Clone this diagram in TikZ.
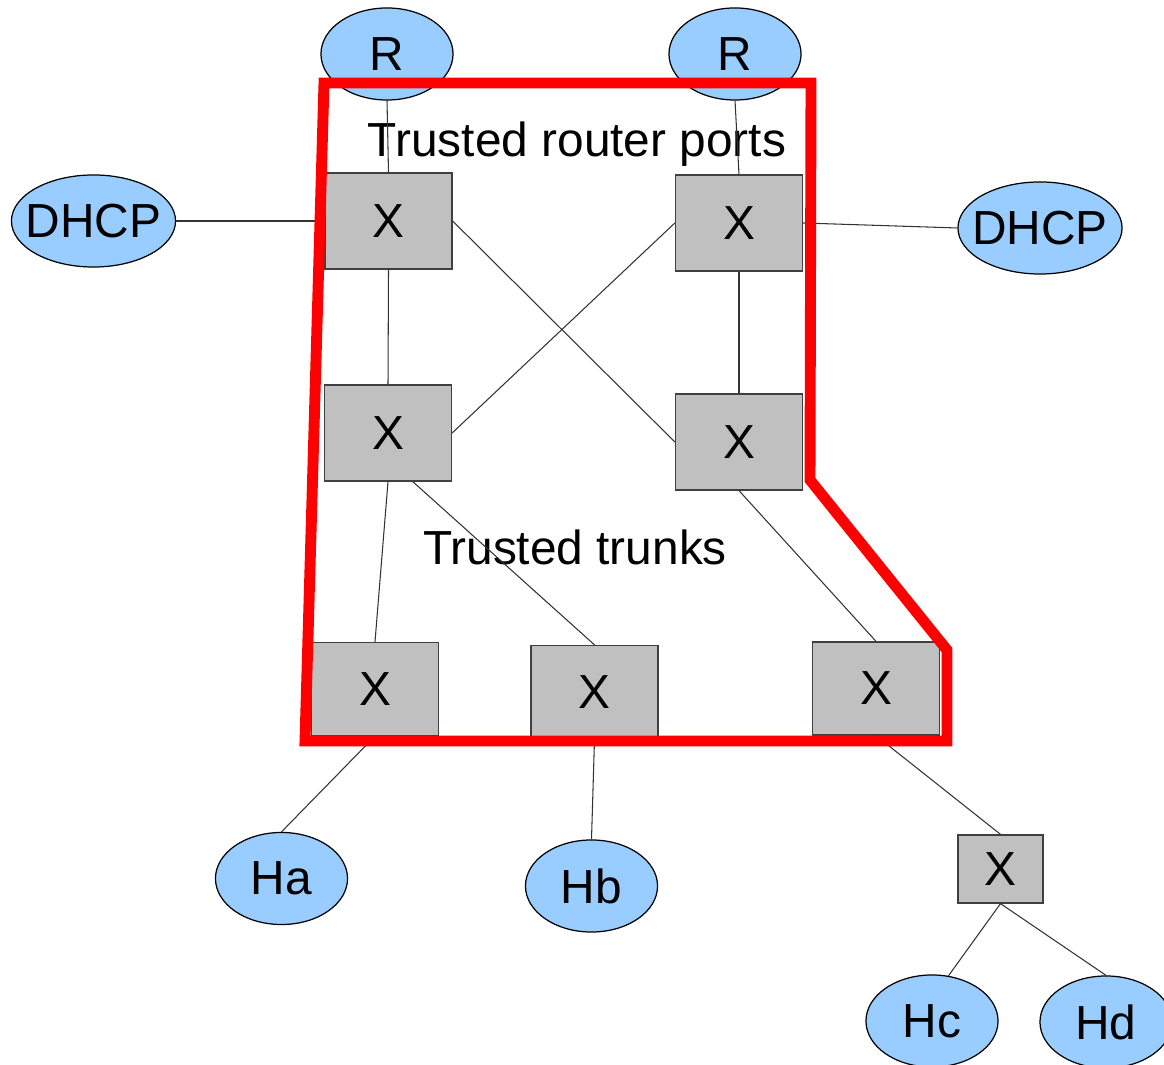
\documentclass[tikz,border=0pt]{standalone}
\usepackage{fontspec}
\setmainfont{Liberation Sans}
\usetikzlibrary{shapes.geometric}
\definecolor{hostblue}{HTML}{99CCFF}
\definecolor{swgray}{HTML}{C0C0C0}
\newcommand{\zw}[1]{\makebox[0pt]{#1}}
\begin{document}
\begin{tikzpicture}[x=0.01cm,y=-0.01cm,
  lbl/.style={font=\fontsize{13.6}{16}\selectfont},
  sw/.style={lbl, draw=black!75, line width=0.35pt, fill=swgray, minimum width=1.27cm, minimum height=0.96cm, inner sep=0pt},
  swlow/.style={sw, minimum height=0.93cm},
  swsmall/.style={sw, minimum width=0.85cm, minimum height=0.68cm},
  host/.style={lbl, ellipse, draw=black, line width=0.35pt, fill=hostblue, minimum width=1.32cm, minimum height=0.92cm, inner sep=0pt},
  wide/.style={host, minimum width=1.64cm},
  link/.style={draw=black!80, line width=0.3pt},
  fence/.style={draw=red, line width=3.1pt, line join=miter}]
\useasboundingbox (0,0) rectangle (1164,1065);
\node[host] (r1) at (387,54) {\zw{R}};
\node[host] (r2) at (735,54) {\zw{R}};
\node[wide] (d1) at (93.5,221) {\zw{DHCP}};
\node[wide] (d2) at (1040,228) {\zw{DHCP}};
\node[sw] (s1) at (388.5,221) {X};
\node[sw] (s2) at (739,223) {X};
\node[sw] (s3) at (388,433) {X};
\node[sw] (s4) at (739,442) {X};
\node[swlow] (s5) at (375,689) {X};
\node[swlow] (s6) at (594.5,692) {X};
\node[swlow] (s7) at (876,688.5) {X};
\node[swsmall] (s8) at (1000.5,869) {X};
\node[host] (ha) at (281.5,878.5) {\zw{Ha}};
\node[host] (hb) at (591.5,886) {\zw{Hb}};
\node[host] (hc) at (932,1021) {\zw{Hc}};
\node[host] (hd) at (1106,1022) {\zw{Hd}};
\node[lbl, anchor=base] (t1) at (577,157) {Trusted router ports};
\node[lbl, anchor=base] (t2) at (575,565) {Trusted trunks};
\draw[link] (r1.south) -- (s1.north);
\draw[link] (r2.south) -- (s2.north);
\draw[link] (d1.east) -- (s1.west);
\draw[link] (s2.east) -- (d2.west);
\draw[link] (s1.south) -- (s3.north);
\draw[link] (s2.south) -- (s4.north);
\draw[link] (s1.east) -- (s4.west);
\draw[link] (s2.west) -- (s3.east);
\draw[link] (s3.south) -- (s5.north);
\draw[link] (s3.-63) -- (s6.north);
\draw[link] (s4.south) -- (s7.north);
\draw[link] (s5.south) -- (ha.north);
\draw[link] (s6.south) -- (hb.north);
\draw[link] (s7.south) -- (s8.north);
\draw[link] (s8.south) -- (hc.70);
\draw[link] (s8.south) -- (hd.north);
\draw[fence] (324,83) -- (811,83) -- (810,480) -- (947,650) -- (947,741) -- (305,741) -- cycle;
\end{tikzpicture}
\end{document}
